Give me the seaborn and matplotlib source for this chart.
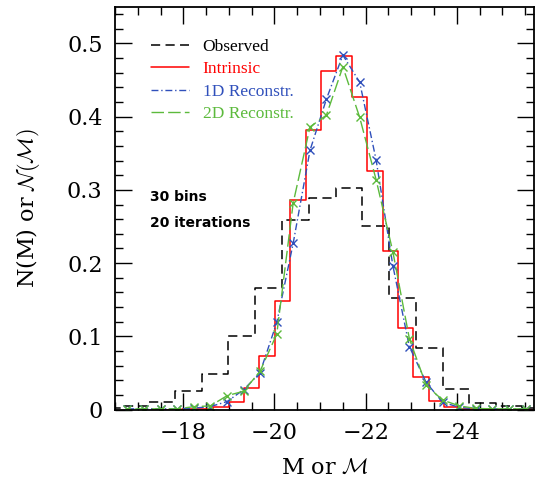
"""
Luminosity function: observed vs intrinsic vs reconstructed distributions
"""

import numpy as np
import pandas as pd
import matplotlib
matplotlib.use("Agg")
import matplotlib.pyplot as plt
from matplotlib.lines import Line2D
from matplotlib.ticker import MultipleLocator
import seaborn as sns


# Observed histogram (wide bins)
obs_edges = [-16.06, -16.65, -17.24, -17.82, -18.41, -18.99, -19.58, -20.17, -20.75,
             -21.34, -21.93, -22.51, -23.10, -23.69, -24.27, -24.86, -25.44, -26.03]
obs_counts = [0.002, 0.005, 0.010, 0.025, 0.049, 0.100, 0.166, 0.259, 0.289,
              0.302, 0.250, 0.153, 0.084, 0.028, 0.0095, 0.005, 0.002]

# Intrinsic histogram (30 bins)
int_edges = [-17.31, -17.65, -17.98, -18.32, -18.66, -19.00, -19.335, -19.67, -20.01,
             -20.35, -20.69, -21.02, -21.36, -21.70, -22.04, -22.38, -22.72, -23.05,
             -23.39, -23.73, -24.07, -24.40, -24.74, -25.08, -25.41, -25.75]
int_counts = [0.0, 0.0, 0.001, 0.001, 0.003, 0.010, 0.030, 0.073, 0.148,
              0.286, 0.382, 0.462, 0.483, 0.427, 0.326, 0.216, 0.111, 0.045,
              0.012, 0.004, 0.001, 0.0005, 0.0, 0.0, 0.0]

# Reconstructions (points at bin centres)
rec_mag = [-16.77, -17.13, -17.50, -17.86, -18.23, -18.59, -18.96, -19.32, -19.68,
           -20.05, -20.41, -20.78, -21.14, -21.50, -21.87, -22.23, -22.60, -22.96,
           -23.33, -23.69, -24.06, -24.42, -24.78, -25.15, -25.51]
rec_1d = [0.001, 0.001, 0.001, 0.001, 0.002, 0.004, 0.011, 0.027, 0.050,
          0.119, 0.227, 0.354, 0.424, 0.484, 0.447, 0.341, 0.196, 0.086,
          0.037, 0.010, 0.003, 0.001, 0.001, 0.001, 0.001]
rec_2d = [0.001, 0.001, 0.001, 0.001, 0.004, 0.005, 0.019, 0.025, 0.052,
          0.103, 0.282, 0.386, 0.402, 0.468, 0.399, 0.314, 0.215, 0.097,
          0.033, 0.013, 0.005, 0.0016, 0.001, 0.001, 0.001]

labels = ["Observed", "Intrinsic", "1D Reconstr.", "2D Reconstr."]
colors = ["black", "#ff0000", "#3050bb", "#5cba3c"]


def centres(edges):
    e = np.array(edges)
    return (e[:-1] + e[1:]) / 2


sns.set_style("ticks")
plt.rcParams['font.family'] = ['DejaVu Serif']
plt.rcParams['mathtext.fontset'] = 'cm'
plt.rcParams['text.color'] = 'black'
plt.rcParams['axes.labelcolor'] = 'black'
plt.rcParams['xtick.color'] = 'black'
plt.rcParams['ytick.color'] = 'black'

fig = plt.figure(figsize=(5.36, 4.83), dpi=100)
ax = fig.add_axes([0.2146, 0.152, 0.782, 0.834])

# Step histograms
sns.histplot(x=centres(obs_edges), weights=obs_counts, bins=sorted(obs_edges),
             element="step", fill=False, color=colors[0], linewidth=1.1,
             linestyle=(0, (6, 3.5)), ax=ax)
sns.histplot(x=centres(int_edges), weights=int_counts, bins=sorted(int_edges),
             element="step", fill=False, color=colors[1], linewidth=1.1, ax=ax)

# Reconstructed curves
rec = pd.DataFrame({"mag": rec_mag, "one": rec_1d, "two": rec_2d})
sns.lineplot(data=rec, x="mag", y="one", color=colors[2], linewidth=1.0,
             linestyle=(0, (5, 2, 1, 2)), marker="x", markersize=6,
             markeredgewidth=1.0, markeredgecolor=colors[2], ax=ax)
sns.lineplot(data=rec, x="mag", y="two", color=colors[3], linewidth=1.0,
             linestyle=(0, (9, 3)), marker="x", markersize=6,
             markeredgewidth=1.0, markeredgecolor=colors[3], ax=ax)

# Axes
ax.set_xlim(-16.5, -25.7)
ax.set_ylim(0, 0.55)
ax.xaxis.set_major_locator(MultipleLocator(2))
ax.xaxis.set_minor_locator(MultipleLocator(0.5))
ax.yaxis.set_major_locator(MultipleLocator(0.1))
ax.yaxis.set_minor_locator(MultipleLocator(0.02))
ax.yaxis.set_major_formatter(matplotlib.ticker.FuncFormatter(
    lambda v, p: "0" if abs(v) < 1e-9 else f"{v:.1f}"))
ax.tick_params(which="both", direction="in", top=True, right=True,
               labelsize=16, width=1.0, color="black", labelcolor="black")
ax.tick_params(which="major", length=12, pad=9)
ax.tick_params(which="minor", length=6)
for sp in ax.spines.values():
    sp.set_linewidth(1.3)
    sp.set_color("black")

ax.set_xlabel(r"M or $\mathcal{M}$", fontsize=16, labelpad=9, color="black")
ax.set_ylabel(r"N(M) or $\mathcal{N}(\mathcal{M})$", fontsize=16, labelpad=18,
              color="black")

# Legend
handles = [
    Line2D([], [], color=colors[0], linewidth=1.1, linestyle=(0, (6, 3.5))),
    Line2D([], [], color=colors[1], linewidth=1.1),
    Line2D([], [], color=colors[2], linewidth=1.0, linestyle=(0, (5, 2, 1, 2))),
    Line2D([], [], color=colors[3], linewidth=1.0, linestyle=(0, (9, 3))),
]
leg = ax.legend(handles, labels, loc="upper left", bbox_to_anchor=(0.085, 0.92),
                frameon=False, prop={"family": "Liberation Serif", "size": 12.5},
                handlelength=2.2, handletextpad=0.8,
                labelspacing=0.35, borderpad=0, borderaxespad=0)
for txt, c in zip(leg.get_texts(), colors):
    txt.set_color(c)

# Annotations
ax.text(0.083, 0.527, "30 bins", transform=ax.transAxes, fontsize=10,
        fontweight="bold", family="DejaVu Sans", va="center", color="black")
ax.text(0.083, 0.463, "20 iterations", transform=ax.transAxes, fontsize=10,
        fontweight="bold", family="DejaVu Sans", va="center", color="black")

plt.savefig("out.png", dpi=100)
plt.close()
